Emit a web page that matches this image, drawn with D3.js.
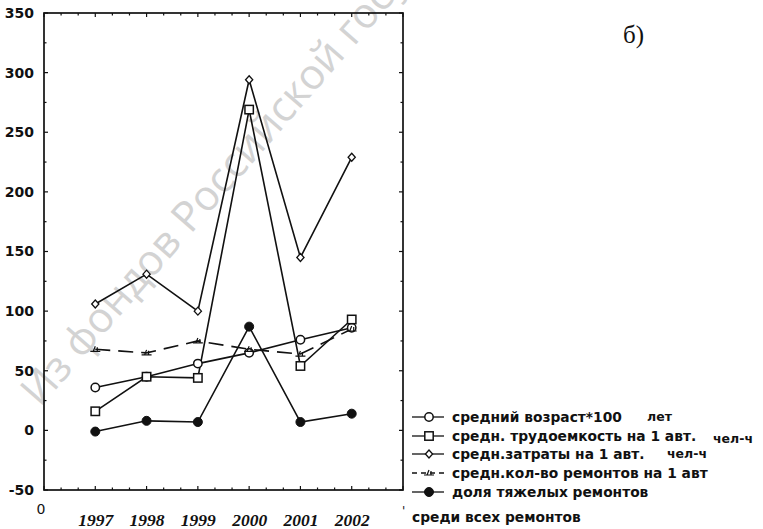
<!DOCTYPE html>
<html>
<head>
<meta charset="utf-8">
<script src="https://cdn.jsdelivr.net/npm/d3@7"></script>
<style>
  html, body { margin: 0; padding: 0; background: #fff; }
  svg { display: block; }
</style>
</head>
<body>
<svg id="chart" width="763" height="529"></svg>
<script>
// Годы наблюдений
const years = [1997, 1998, 1999, 2000, 2001, 2002];

// Показатели по годам
const avgAge100   = [36, 45, 56, 65, 76, 86];       // средний возраст*100, лет
const laborPerCar = [16, 45, 44, 269, 54, 93];      // средн. трудоемкость на 1 авт., чел-ч
const costPerCar  = [106, 131, 100, 294, 145, 229]; // средн. затраты на 1 авт., чел-ч
const repairsPerCar = [68, 65, 75, 68, 64, 85];     // средн. кол-во ремонтов на 1 авт
const heavyShare  = [-1, 8, 7, 87, 7, 14];          // доля тяжелых ремонтов

// Подписи осей
const yTicks = [-50, 0, 50, 100, 150, 200, 250, 300, 350];
const xTickLabels = ["1997", "1998", "1999", "2000", "2001", "2002"];

// Легенда
const legendLabels = [
  "средний возраст*100",
  "средн. трудоемкость на 1 авт.",
  "средн.затраты на 1 авт.",
  "средн.кол-во ремонтов на 1 авт",
  "доля тяжелых ремонтов"
];
const legendUnits = ["лет", "чел-ч", "чел-ч", "", ""];
const legendTail = "среди всех ремонтов";
const panelLabel = "б)";
const watermark = "Из фондов Российской государственной библиотеки";

const svg = d3.select("#chart");
const ink = "#111";

const x = d3.scaleLinear().domain([1996, 2003]).range([44, 403]);
const y = d3.scaleLinear().domain([-50, 350]).range([490, 13]);

// Водяной знак
svg.append("text")
  .attr("transform", "translate(40,408) rotate(-49)")
  .attr("font-family", "'Open Sans', 'DejaVu Sans', sans-serif")
  .attr("font-size", 42)
  .attr("fill", "#d3d3d3")
  .text(watermark);

// Рамка
svg.append("rect")
  .attr("x", x.range()[0]).attr("y", y.range()[1])
  .attr("width", x.range()[1] - x.range()[0])
  .attr("height", y.range()[0] - y.range()[1])
  .attr("fill", "none").attr("stroke", ink).attr("stroke-width", 1.7);

// Засечки внутрь на всех сторонах
const xMinor = d3.range(1996, 2003.001, 1 / 3);
const yMinor = d3.range(-50, 350.001, 25);
const tickG = svg.append("g").attr("stroke", ink).attr("stroke-width", 1.2);
xMinor.forEach(v => {
  const major = Math.abs(v - Math.round(v)) < 1e-6;
  const len = major ? 4 : 2.5;
  tickG.append("line").attr("x1", x(v)).attr("x2", x(v))
    .attr("y1", y.range()[0]).attr("y2", y.range()[0] - len);
  tickG.append("line").attr("x1", x(v)).attr("x2", x(v))
    .attr("y1", y.range()[1]).attr("y2", y.range()[1] + len);
});
yMinor.forEach(v => {
  const major = v % 50 === 0;
  const len = major ? 4 : 2.5;
  tickG.append("line").attr("y1", y(v)).attr("y2", y(v))
    .attr("x1", x.range()[0]).attr("x2", x.range()[0] + len);
  tickG.append("line").attr("y1", y(v)).attr("y2", y(v))
    .attr("x1", x.range()[1]).attr("x2", x.range()[1] - len);
});

// Подписи оси Y
const yAxis = d3.axisLeft(y).tickValues(yTicks).tickSize(0).tickPadding(10)
  .tickFormat(d => d < 0 ? "-" + Math.abs(d) : d);
const yG = svg.append("g").attr("transform", `translate(${x.range()[0]},0)`).call(yAxis);
yG.select(".domain").remove();
yG.selectAll("text")
  .attr("font-family", "'DejaVu Sans', Verdana, sans-serif")
  .attr("font-weight", "bold")
  .attr("font-size", 14)
  .attr("fill", ink);

// Подписи оси X
const xAxis = d3.axisBottom(x).tickValues(years).tickSize(0).tickPadding(24)
  .tickFormat((d, i) => xTickLabels[i]);
const xG = svg.append("g").attr("transform", `translate(0,${y.range()[0]})`).call(xAxis);
xG.select(".domain").remove();
xG.selectAll("text")
  .attr("font-family", "'Liberation Serif', 'Times New Roman', serif")
  .attr("font-style", "italic")
  .attr("font-weight", "bold")
  .attr("font-size", 17.5)
  .attr("fill", ink);

svg.append("text").attr("x", 41).attr("y", 514)
  .attr("text-anchor", "middle")
  .attr("font-family", "'DejaVu Sans', sans-serif")
  .attr("font-size", 14).attr("fill", ink).text("0");

// Серии
const line = d3.line().x(d => x(d[0])).y(d => y(d[1]));
const series = [
  { values: avgAge100, marker: "circle", dash: null },
  { values: laborPerCar, marker: "square", dash: null },
  { values: costPerCar, marker: "diamond", dash: null },
  { values: repairsPerCar, marker: "tick", dash: "15,8" },
  { values: heavyShare, marker: "dot", dash: null }
];

function drawMarker(g, type, cx, cy) {
  if (type === "circle") {
    g.append("circle").attr("cx", cx).attr("cy", cy).attr("r", 4.2)
      .attr("fill", "#fff").attr("stroke", ink).attr("stroke-width", 1.5);
  } else if (type === "square") {
    g.append("rect").attr("x", cx - 4.2).attr("y", cy - 4.2).attr("width", 8.4).attr("height", 8.4)
      .attr("fill", "#fff").attr("stroke", ink).attr("stroke-width", 1.5);
  } else if (type === "diamond") {
    g.append("path")
      .attr("d", `M${cx},${cy - 4}L${cx + 3.6},${cy}L${cx},${cy + 4}L${cx - 3.6},${cy}Z`)
      .attr("fill", "#fff").attr("stroke", ink).attr("stroke-width", 1.3);
  } else if (type === "tick") {
    g.append("path")
      .attr("d", `M${cx - 5},${cy + 2}L${cx + 5},${cy + 2}M${cx - 2},${cy + 2}L${cx},${cy - 3}M${cx + 2},${cy + 2}L${cx + 2},${cy - 2}`)
      .attr("fill", "none").attr("stroke", ink).attr("stroke-width", 1.2);
  } else if (type === "dot") {
    g.append("circle").attr("cx", cx).attr("cy", cy).attr("r", 4.5)
      .attr("fill", ink).attr("stroke", ink).attr("stroke-width", 1);
  }
}

const plotG = svg.append("g");
series.forEach(s => {
  const pts = years.map((yr, i) => [yr, s.values[i]]);
  plotG.append("path").datum(pts)
    .attr("d", line)
    .attr("fill", "none")
    .attr("stroke", ink)
    .attr("stroke-width", 1.6)
    .attr("stroke-dasharray", s.dash);
});
series.forEach(s => {
  const mg = plotG.append("g");
  years.forEach((yr, i) => drawMarker(mg, s.marker, x(yr), y(s.values[i])));
});

// Легенда
const legendY = [417, 436, 454, 473, 492];
const unitX = [647, 713, 667, 0, 0];
const legG = svg.append("g")
  .attr("font-family", "'DejaVu Sans', Verdana, sans-serif")
  .attr("font-weight", "bold")
  .attr("font-size", 13.8)
  .attr("fill", ink);
series.forEach((s, i) => {
  const ly = legendY[i];
  legG.append("line").attr("x1", 412).attr("x2", 444).attr("y1", ly).attr("y2", ly)
    .attr("stroke", ink).attr("stroke-width", 1.3)
    .attr("stroke-dasharray", s.dash ? "5,4" : null);
  drawMarker(legG, s.marker, 429, ly);
  legG.append("text").attr("x", 452).attr("y", ly).attr("dy", "0.35em").text(legendLabels[i]);
  if (legendUnits[i]) {
    legG.append("text").attr("x", unitX[i]).attr("y", ly + (i === 1 ? 3 : 0)).attr("dy", "0.35em")
      .attr("font-size", 12.5)
      .text(legendUnits[i]);
  }
});
legG.append("text").attr("x", 412).attr("y", 517).attr("dy", "0.35em").text(legendTail);
svg.append("text").attr("x", 402).attr("y", 515)
  .attr("font-family", "'DejaVu Sans', sans-serif").attr("font-size", 12).attr("fill", ink).text("'");

// Обозначение панели
svg.append("text").attr("x", 623).attr("y", 43)
  .attr("font-family", "'Liberation Serif', 'Times New Roman', serif")
  .attr("font-size", 25).attr("fill", ink).text(panelLabel);
</script>
</body>
</html>
